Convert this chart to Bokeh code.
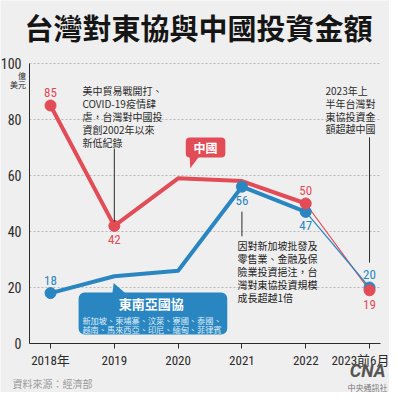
from bokeh.plotting import figure
from bokeh.models import Range1d, FixedTicker, Label, BoxAnnotation, ColumnDataSource
from bokeh.core.properties import value
from bokeh.embed import file_html
from bokeh.resources import INLINE

# ---------------- data ----------------
years = ["2018年", "2019", "2020", "2021", "2022", "2023前6月"]
china = [85, 42, 59, 58, 50, 19]
asean = [18, 24, 26, 56, 47, 20]
china_markers = [0, 1, 4, 5]
asean_markers = [0, 3, 4, 5]
china_label_pos = ["above", "below", None, None, "above", "below"]
asean_label_pos = ["above", None, None, "below", "below", "above"]
y_ticks = [0, 20, 40, 60, 80, 100]
grid_ticks = [20, 40, 60, 80, 100]

RED = "#e24c57"
BLUE = "#2a86c1"
BG = "#efefef"
INK = "#2b2b2b"
CJK = "Noto Sans CJK TC"
NUM = "Roboto Condensed, Roboto, Noto Sans CJK TC, sans-serif"

xs = list(range(len(years)))
X_LO, X_HI = -0.33, 5.17   # axis extent (data units)

p = figure(width=389, height=392, output_backend="svg", toolbar_location=None,
           title=None,
           x_range=Range1d(-0.784, 5.313), y_range=Range1d(-17.5, 122.5),
           min_border_left=0, min_border_right=0, min_border_top=0, min_border_bottom=0,
           background_fill_color=BG, border_fill_color=BG, outline_line_color=None)

# axes (pinned inside the frame)
p.yaxis.fixed_location = X_LO
p.yaxis.bounds = (0, 100)
p.yaxis.ticker = FixedTicker(ticks=y_ticks)
p.yaxis.major_tick_line_color = None
p.yaxis.minor_tick_line_color = None
p.yaxis.axis_line_color = INK
p.yaxis.major_label_text_font = NUM
p.yaxis.major_label_text_font_size = "14px"
p.yaxis.major_label_text_color = INK
p.yaxis.major_label_standoff = 2

p.xaxis.fixed_location = 0
p.xaxis.bounds = (X_LO, X_HI)
p.xaxis.ticker = FixedTicker(ticks=xs)
p.xaxis.major_label_overrides = {i: t for i, t in zip(xs, years)}
p.xaxis.major_tick_out = 5
p.xaxis.major_tick_in = 0
p.xaxis.major_tick_line_color = INK
p.xaxis.minor_tick_line_color = None
p.xaxis.axis_line_color = INK
p.xaxis.major_label_text_font = NUM
p.xaxis.major_label_text_font_size = "13px"
p.xaxis.major_label_text_color = INK
p.xaxis.major_label_standoff = 4

p.xgrid.visible = False
p.ygrid.visible = False
p.segment(x0=[X_LO] * len(grid_ticks), y0=grid_ticks, x1=[X_HI] * len(grid_ticks),
          y1=grid_ticks, line_color="#b8b8b8", line_dash="2 2", line_width=1)

# title
p.add_layout(Label(x=2.32, y=113.2, text="台灣對東協與中國投資金額", text_font=CJK,
                   text_font_size="29px", text_font_style="bold", text_color="#151515",
                   text_align="center", text_baseline="middle"))

# lines: thick through 2022, thin to 2023H1
p.line(xs[:5], china[:5], line_width=4, color=RED, line_join="round")
p.line(xs[4:], china[4:], line_width=1.2, color=RED)
p.line(xs[:5], asean[:5], line_width=4, color=BLUE, line_join="round")
p.line(xs[4:], asean[4:], line_width=1.2, color=BLUE)

p.scatter([xs[i] for i in asean_markers], [asean[i] for i in asean_markers], size=11,
          color=BLUE)
p.scatter([xs[i] for i in china_markers], [china[i] for i in china_markers], size=11,
          color=RED)

# value labels
lx, ly, lt, lo, lc = [], [], [], [], []
for series, pos, col in ((china, china_label_pos, RED), (asean, asean_label_pos, BLUE)):
    for i, (v, ps) in enumerate(zip(series, pos)):
        if ps:
            lx.append(xs[i]); ly.append(v); lt.append(str(v))
            lo.append(-13 if ps == "above" else 14)
            lc.append(col)
src = ColumnDataSource(dict(x=lx, y=ly, t=lt, o=lo, c=lc))
p.text(x="x", y="y", text="t", y_offset="o", text_color="c", source=src,
       text_font=value(NUM), text_font_size="13px", text_align="center",
       text_baseline="middle")

# unit label
p.add_layout(Label(x=-0.384, y=95.7, text="億", text_font=CJK, text_font_size="8px",
                   text_color=INK, text_align="right", text_baseline="middle"))
p.add_layout(Label(x=-0.384, y=92.4, text="美元", text_font=CJK, text_font_size="8px",
                   text_color=INK, text_align="right", text_baseline="middle"))

# annotations
def note(x, y, txt, size="10px", color=INK, lh=0.87):
    p.add_layout(Label(x=x, y=y, text=txt, text_font=CJK, text_font_size=size,
                       text_color=color, text_align="left", text_baseline="top",
                       text_line_height=lh))

note(0.50, 93.0, "美中貿易戰開打、\nCOVID-19疫情肆\n虐，台灣對中國投\n資創2002年以來\n新低紀錄")
note(4.31, 93.0, "2023年上\n半年台灣對\n東協投資金\n額超越中國", lh=0.85)
note(2.93, 37.7, "因對新加坡批發及\n零售業、金融及保\n險業投資挹注，台\n灣對東協投資規模\n成長超越1倍",
     color="#222222")

p.segment(x0=[1, 5, 3], y0=[69.6, 73.6, 47.1], x1=[1, 5, 3], y1=[43.5, 28.9, 38.3],
          line_color=INK, line_width=1)

# China callout
p.add_layout(BoxAnnotation(left=2.12, right=2.74, top=73.6, bottom=66.4, fill_color=RED,
                           fill_alpha=1, line_color=None, border_radius=4))
p.patch([2.18, 2.33, 2.19], [66.8, 66.8, 62.6], fill_color=RED, line_color=None)
p.add_layout(Label(x=2.43, y=70.0, text="中國", text_font=CJK, text_font_size="12px",
                   text_font_style="bold", text_color="white", text_align="center",
                   text_baseline="middle"))

# ASEAN callout
p.add_layout(BoxAnnotation(left=0.44, right=2.77, top=18.2, bottom=3.2, fill_color=BLUE,
                           fill_alpha=1, line_color=None, border_radius=6))
p.patch([0.97, 1.17, 0.99], [18.0, 18.0, 21.6], fill_color=BLUE, line_color=None)
p.add_layout(Label(x=1.58, y=14.3, text="東南亞國協", text_font=CJK, text_font_size="13px",
                   text_font_style="bold", text_color="white", text_align="center",
                   text_baseline="middle"))
p.add_layout(Label(x=0.50, y=10.6, text="新加坡、柬埔寨、汶萊、寮國、泰國、\n越南、馬來西亞、印尼、緬甸、菲律賓",
                   text_font=CJK, text_font_size="8.2px", text_color="#dcebf6",
                   text_align="left", text_baseline="top", text_line_height=0.76))

# source + logo
p.add_layout(Label(x=-0.596, y=-14.3, text="資料來源：經濟部", text_font=CJK,
                   text_font_size="10px", text_color="#9a9a9a", text_align="left",
                   text_baseline="middle"))
p.add_layout(Label(x=4.97, y=-9.6, text="CNA", text_font="Roboto", text_font_size="18px",
                   text_font_style="bold italic", text_color="#555555", text_align="center",
                   text_baseline="middle"))
p.add_layout(Label(x=4.97, y=-15.7, text="中央通訊社", text_font=CJK, text_font_size="8px",
                   text_color="#777777", text_align="center", text_baseline="middle"))

open("out.html", "w").write(file_html(p, INLINE))
